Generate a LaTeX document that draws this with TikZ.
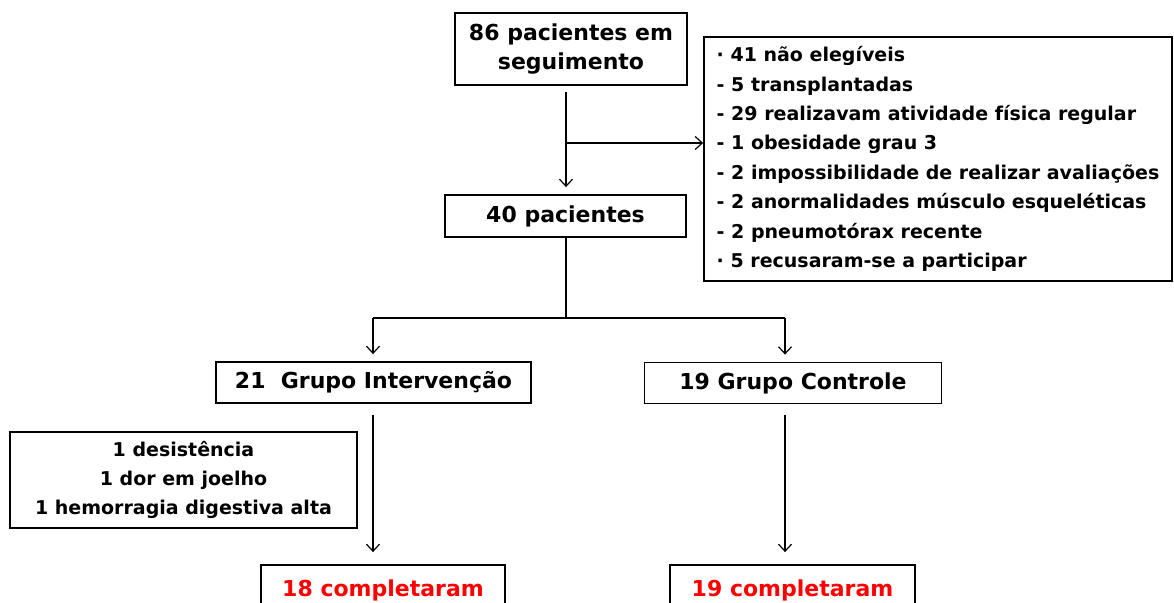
\documentclass[tikz,border=0pt]{standalone}
\usepackage{fontspec}
\setmainfont{DejaVu Sans}
\usepackage{tikz}
\usetikzlibrary{positioning,arrows.meta}

\tikzset{
  box/.style = {draw, line width = 1.8pt, align = center, inner sep = 0pt, font = \bfseries},
  flow/.style = {-{Straight Barb[length=7pt,width=13pt]}, line width = 1.2pt}
}

\begin{document}
\begin{tikzpicture}[x = 1pt, y = -1pt]
\useasboundingbox (0,0) rectangle (1174,602);
\clip (0,0) rectangle (1174,602);
\node[box, minimum width = 232, minimum height = 72, font = \fontsize{22}{29}\bfseries] (top) at (571,49) {\raisebox{-3pt}{\shortstack{86 pacientes em\\[5pt]seguimento}}};
\node[box, minimum width = 468, minimum height = 244, align = left, font = \fontsize{19}{29.4}\bfseries] (excl) at (938,159) {· 41 não elegíveis\\- 5 transplantadas\\- 29 realizavam atividade física regular\\- 1 obesidade grau 3\\- 2 impossibilidade de realizar avaliações\\- 2 anormalidades músculo esqueléticas\\- 2 pneumotórax recente\\· 5 recusaram-se a participar};
\node[box, minimum width = 241, minimum height = 42, font = \fontsize{22}{29}\bfseries] (n40) at (565.5,216) {40 pacientes};
\node[box, minimum width = 315, minimum height = 41, font = \fontsize{22}{29}\bfseries] (gi) at (373.5,382.5) {21\ \ Grupo Intervenção};
\node[box, minimum width = 297, minimum height = 41, font = \fontsize{22}{29}\bfseries] (gc) at (793,383) {19 Grupo Controle};
\node[box, minimum width = 347, minimum height = 96, font = \fontsize{19}{29}\bfseries] (drop) at (183.5,480) {1 desistência\\1 dor em joelho\\1 hemorragia digestiva alta};
\node[box, minimum width = 244, minimum height = 50, text = red, font = \fontsize{22}{29}\bfseries] (c18) at (383,590) {18 completaram};
\node[box, minimum width = 245, minimum height = 50, text = red, font = \fontsize{22}{29}\bfseries] (c19) at (792.5,590) {19 completaram};

% connectors
\coordinate (br) at (566,143);
\coordinate (sp) at (566,318);
\coordinate (spl) at (373,318);
\coordinate (spr) at (785,318);
\draw[flow] ([yshift=-6pt]top.south -| br) -- ([yshift=7pt]n40.north -| br);
\draw[flow] (br) -- (br -| excl.west);
\draw[line width = 1.2pt] (n40.south -| sp) -- (sp);
\draw[line width = 1.2pt] (spl) -- (spr);
\draw[flow] (spl) -- ([yshift=7pt]gi.north -| spl);
\draw[flow] (spr) -- ([yshift=7pt]gc.north -| spr);
\draw[flow] ([yshift=-11pt]gi.south -| spl) -- ([yshift=12pt]c18.north -| spl);
\draw[flow] ([yshift=-11pt]gc.south -| spr) -- ([yshift=12pt]c19.north -| spr);
\end{tikzpicture}
\end{document}
